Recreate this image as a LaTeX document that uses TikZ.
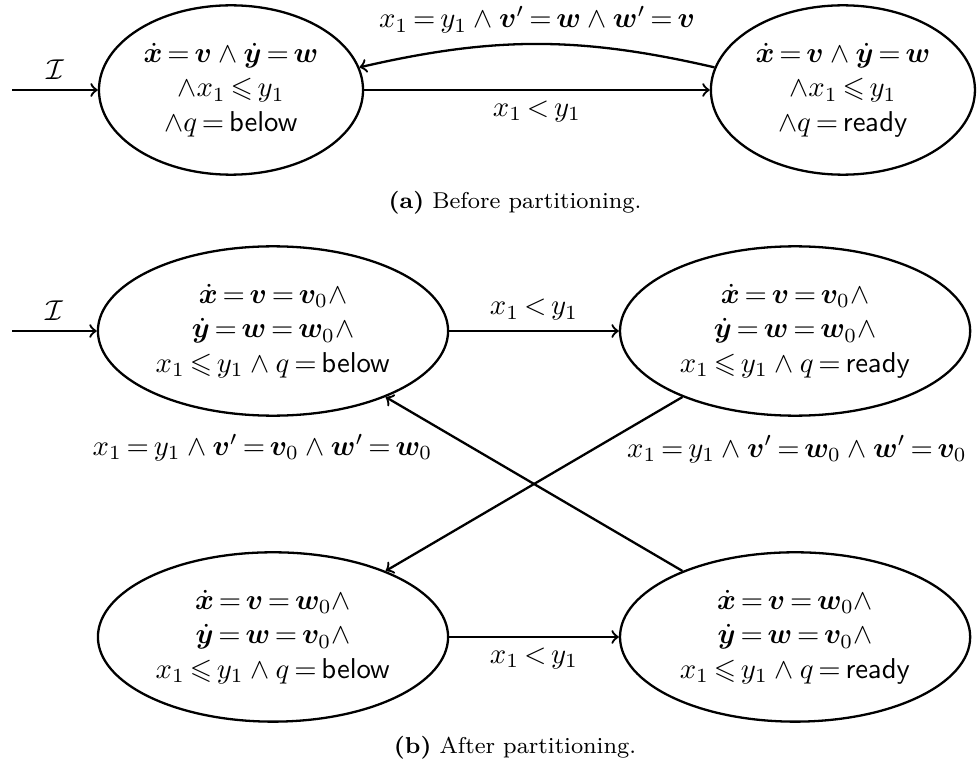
\documentclass[tikz,border=0pt]{standalone}
\usepackage{amsmath}
\usepackage{amssymb}
\usepackage{bm}
\usepackage{tikz}
\usetikzlibrary{shapes.geometric}

\thickmuskip=3mu plus 1mu

\begin{document}
\begin{tikzpicture}[x=0.3484pt, y=0.3484pt, thick, ->]
        \useasboundingbox (0,0) rectangle (977,767);
        \tikzset{
          state/.style={draw, ellipse, align=center, inner sep=1pt, minimum height=59pt},
          statea/.style={state, minimum width=92pt},
          stateb/.style={state, minimum width=122pt}
        }

        % (a) before partitioning
        \node[statea] (belowA) at (231,677) {$\dot{\bm{x}}=\bm{v}\wedge\dot{\bm{y}}=\bm{w}$\\ $\wedge x_1\leqslant y_1$\\ $\wedge q=\mathsf{below}$};
        \node[statea] (readyA) [right of=belowA, node distance=213.2pt] {$\dot{\bm{x}}=\bm{v}\wedge\dot{\bm{y}}=\bm{w}$\\ $\wedge x_1\leqslant y_1$\\ $\wedge q=\mathsf{ready}$};
        \coordinate (initA) at (12,677);

        \draw[->] (initA) -- node[above] {$\mathcal{I}$} (belowA);
        \draw[->] (belowA) -- node[below] {$x_1<y_1$} (readyA);
        \draw[->] (readyA.170) to[bend right=13] node[above] {$x_1=y_1\wedge\bm{v}'=\bm{w}\wedge\bm{w}'=\bm{v}$} (belowA.10);

        \node (capA) at (515,564) {\footnotesize\textbf{(a)} Before partitioning.};

        % (b) after partitioning
        \node[stateb] (belowB1) at (273,436) {$\dot{\bm{x}}=\bm{v}=\bm{v}_0\wedge$\\ $\dot{\bm{y}}=\bm{w}=\bm{w}_0\wedge$\\ $x_1\leqslant y_1\wedge q=\mathsf{below}$};
        \node[stateb] (readyB1) [right of=belowB1, node distance=181.9pt] {$\dot{\bm{x}}=\bm{v}=\bm{v}_0\wedge$\\ $\dot{\bm{y}}=\bm{w}=\bm{w}_0\wedge$\\ $x_1\leqslant y_1\wedge q=\mathsf{ready}$};
        \node[stateb] (belowB2) [below of=belowB1, node distance=106.6pt] {$\dot{\bm{x}}=\bm{v}=\bm{w}_0\wedge$\\ $\dot{\bm{y}}=\bm{w}=\bm{v}_0\wedge$\\ $x_1\leqslant y_1\wedge q=\mathsf{below}$};
        \node[stateb] (readyB2) [right of=belowB2, node distance=181.9pt] {$\dot{\bm{x}}=\bm{v}=\bm{w}_0\wedge$\\ $\dot{\bm{y}}=\bm{w}=\bm{v}_0\wedge$\\ $x_1\leqslant y_1\wedge q=\mathsf{ready}$};
        \coordinate (initB) at (12,436);

        \draw[->] (initB) -- node[above] {$\mathcal{I}$} (belowB1);
        \draw[->] (belowB1) -- node[above] {$x_1<y_1$} (readyB1);
        \draw[->] (belowB2) -- node[below] {$x_1<y_1$} (readyB2);
        \draw[->] (readyB2) -- node[pos=0.71, left=10pt] {$x_1=y_1\wedge\bm{v}'=\bm{v}_0\wedge\bm{w}'=\bm{w}_0$} (belowB1);
        \draw[->] (readyB1) -- node[pos=0.3, right=8pt] {$x_1=y_1\wedge\bm{v}'=\bm{w}_0\wedge\bm{w}'=\bm{v}_0$} (belowB2);

        \node (capB) at (515,19) {\footnotesize\textbf{(b)} After partitioning.};
\end{tikzpicture}
\end{document}
